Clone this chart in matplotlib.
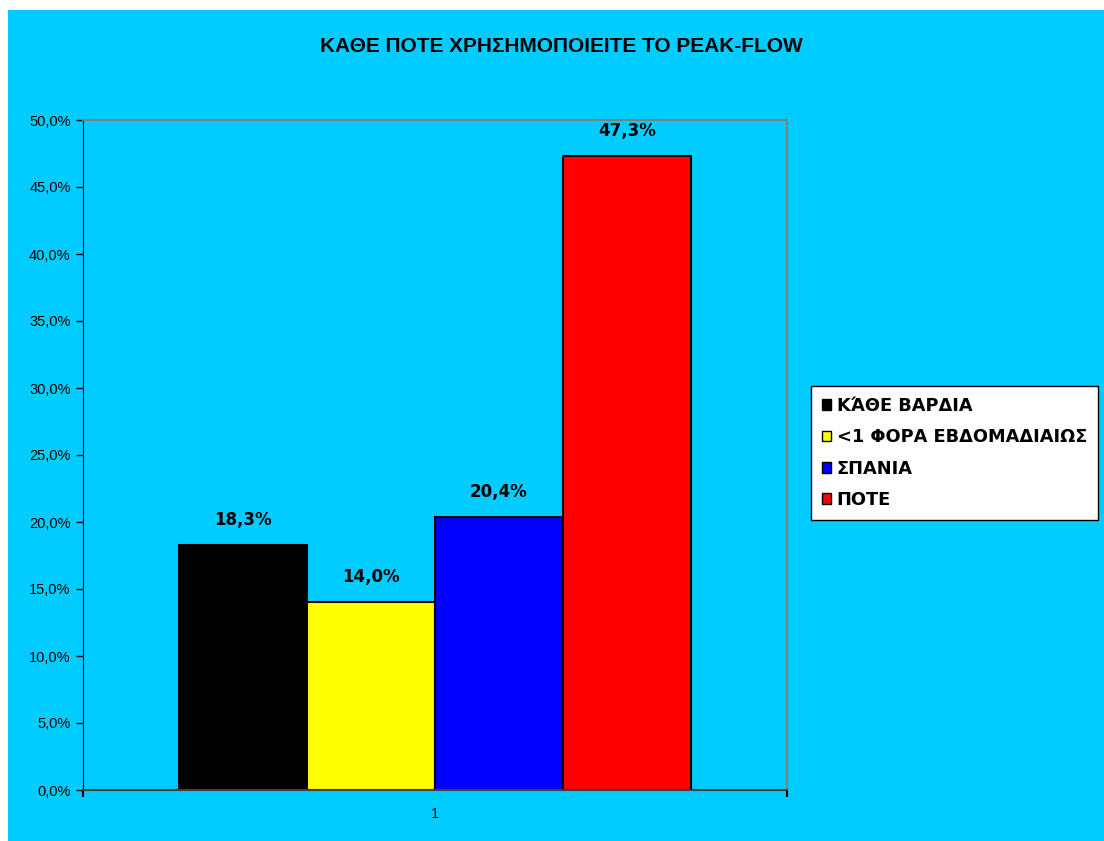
import matplotlib.pyplot as plt
from matplotlib.patches import Rectangle

# données
categories = ["ΚΆΘΕ ΒΑΡΔΙΑ", "<1 ΦΟΡΑ ΕΒΔΟΜΑΔΙΑΙΩΣ", "ΣΠΑΝΙΑ", "ΠΟΤΕ"]
valeurs = [18.3, 14.0, 20.4, 47.3]
couleurs = ["#000000", "#FFFF00", "#0000FF", "#FF0000"]
yticks = [0, 5, 10, 15, 20, 25, 30, 35, 40, 45, 50]
titre = "ΚΑΘΕ ΠΟΤΕ ΧΡΗΣΗΜΟΠΟΙΕΙΤΕ ΤΟ PEAK-FLOW"

fond = "#00CCFF"

fig = plt.figure(figsize=(11.04, 8.41), dpi=100, facecolor="white")
# zone de fond bleue
fig.patches.append(Rectangle((8 / 1104, 0), 1, (841 - 10) / 841,
                             transform=fig.transFigure, facecolor=fond,
                             edgecolor="none", zorder=-10))

ax = fig.add_axes([83 / 1104, 51 / 841, 704 / 1104, 670 / 841])
ax.set_facecolor(fond)
ax.set_zorder(1)

largeur = 128 / 704
for i, (cat, v, c) in enumerate(zip(categories, valeurs, couleurs)):
    x = 0.5 + (i - 1.5) * largeur
    ax.bar(x, v, width=largeur, color=c, edgecolor="black", linewidth=1.5,
           label=cat, zorder=2)
    ax.text(x, v + 1.2, f"{v:.1f}".replace(".", ",") + "%", ha="center",
            va="bottom", fontsize=12, fontweight="bold", family="DejaVu Sans")

ax.set_xlim(0, 1)
ax.set_ylim(0, 50)
ax.set_yticks(yticks)
ax.set_yticklabels([f"{t:.1f}".replace(".", ",") + "%" for t in yticks],
                   fontsize=10.5, family="Liberation Sans")
ax.tick_params(axis="y", direction="out", length=5, width=1, pad=4)

ax.set_xticks([0.5])
ax.set_xticklabels(["1"], fontsize=10.5, family="Liberation Sans")
ax.set_xticks([0, 1], minor=True)
ax.tick_params(axis="x", which="major", length=0, pad=12)
ax.tick_params(axis="x", which="minor", direction="out", length=5, width=1.5)

ax.spines["left"].set_color("black")
ax.spines["bottom"].set_color("#404040")
ax.spines["bottom"].set_linewidth(1.5)
ax.spines["top"].set_color("#808080")
ax.spines["right"].set_color("#808080")
ax.spines["top"].set_linewidth(1.5)
ax.spines["right"].set_linewidth(1.5)

fig.text(561 / 1104, (841 - 46) / 841, titre, ha="center",
         va="center", fontsize=15, fontweight="bold",
         family=["Liberation Sans Narrow", "Liberation Sans"])

leg = fig.legend(loc="center left", bbox_to_anchor=(811 / 1104, (841 - 453) / 841),
                 frameon=True, fancybox=False, edgecolor="black",
                 facecolor="white", framealpha=1, handlelength=0.55,
                 handleheight=0.55, handletextpad=0.3, labelspacing=0.75,
                 borderpad=0.6, borderaxespad=0,
                 prop={"family": "DejaVu Sans", "weight": "bold", "size": 12.8})
leg.get_frame().set_linewidth(1)
for h in leg.legend_handles:
    h.set_linewidth(1)

fig.savefig("out.png", dpi=100, facecolor="white")
